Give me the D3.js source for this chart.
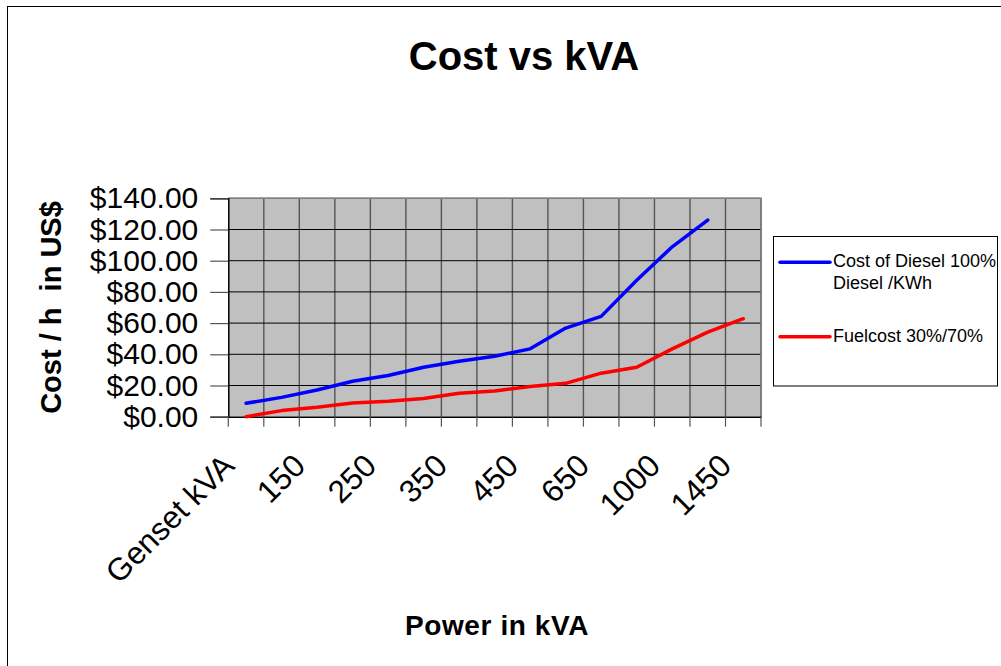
<!DOCTYPE html>
<html>
<head>
<meta charset="utf-8">
<script src="https://cdn.jsdelivr.net/npm/d3@7/dist/d3.min.js"></script>
<style>
  html, body { margin: 0; padding: 0; background: #fff; }
  svg { display: block; font-family: "Liberation Sans", Arial, sans-serif; }
</style>
</head>
<body>
<svg id="chart" width="1001" height="666"></svg>
<script>
// ---- data ----
const categories = ["Genset kVA", "100", "150", "200", "250", "300", "350", "400", "450", "500", "650", "800", "1000", "1250", "1450"];
const shownLabels = ["Genset kVA", "150", "250", "350", "450", "650", "1000", "1450"];
const dieselCost = [8.6, 12.4, 17.1, 22.7, 26.4, 31.7, 35.6, 38.8, 43.5, 56.8, 64.3, 87.5, 108.9, 126.0];
const fuelCost = [0, 3.9, 6.0, 8.8, 9.9, 11.6, 15.0, 16.5, 19.3, 21.4, 27.9, 31.7, 43.5, 54.2, 62.8];
const yTicks = [0, 20, 40, 60, 80, 100, 120, 140];
const seriesNames = ["Cost of Diesel 100%", "Fuelcost 30%/70%"];
const seriesColors = ["#0000FF", "#FF0000"];

const svg = d3.select("#chart");

// outer chart border
svg.append("rect")
  .attr("x", 7.5).attr("y", 6.5).attr("width", 1100).attr("height", 800)
  .attr("fill", "#fff").attr("stroke", "#000").attr("stroke-width", 1);

const pL = 228.3, pR = 761, pT = 198.3, pB = 416.7;

const x = d3.scaleBand().domain(categories).range([pL, pR]).padding(0);
const y = d3.scaleLinear().domain([0, 140]).range([pB, pT]);
const cx = d => x(d) + x.bandwidth() / 2;

// plot background
svg.append("rect")
  .attr("x", pL).attr("y", pT)
  .attr("width", pR - pL).attr("height", pB - pT)
  .attr("fill", "#C0C0C0");

// vertical gridlines at category boundaries
const bounds = categories.map(c => x(c)).concat([pR]);
svg.append("g").selectAll("line").data(bounds.slice(1)).join("line")
  .attr("x1", d => d).attr("x2", d => d)
  .attr("y1", pT).attr("y2", pB)
  .attr("stroke", "#555").attr("stroke-width", 1.4);

// horizontal gridlines
svg.append("g").selectAll("line").data(yTicks.slice(1)).join("line")
  .attr("x1", pL).attr("x2", pR)
  .attr("y1", d => y(d)).attr("y2", d => y(d))
  .attr("stroke", "#000").attr("stroke-width", 1);

// top / right plot border
svg.append("path")
  .attr("d", `M${pL},${pT}H${pR}V${pB}`)
  .attr("fill", "none").attr("stroke", "#808080").attr("stroke-width", 1.5);

// y axis
const yAxis = svg.append("g")
  .attr("transform", `translate(${pL},0)`)
  .call(d3.axisLeft(y).tickValues(yTicks).tickSize(18).tickPadding(12)
    .tickFormat(d => "$" + d.toFixed(2)));
yAxis.select(".domain").attr("stroke", "#000").attr("stroke-width", 1.5);
yAxis.selectAll(".tick line").attr("stroke", "#555").attr("stroke-width", 1.2);
yAxis.selectAll(".tick text")
  .attr("font-size", 30).attr("fill", "#000")
  .attr("font-family", "Liberation Sans, Arial, sans-serif");

// x axis
const xAxis = svg.append("g")
  .attr("transform", `translate(0,${pB})`)
  .call(d3.axisBottom(x).tickSizeOuter(0).tickSize(0).tickFormat(d => shownLabels.includes(d) ? d : ""));
xAxis.select(".domain").attr("stroke", "#000").attr("stroke-width", 1.5);
xAxis.selectAll(".tick line").remove();
xAxis.selectAll(".tick text")
  .attr("font-size", 31.5).attr("fill", "#000")
  .attr("font-family", "Liberation Sans, Arial, sans-serif")
  .attr("text-anchor", "end")
  .attr("x", 0).attr("y", 0).attr("dy", 0)
  .attr("transform", "translate(-10,51) rotate(-45)");

// x tick marks at category boundaries
svg.append("g").selectAll("line").data(bounds).join("line")
  .attr("x1", d => d).attr("x2", d => d)
  .attr("y1", pB).attr("y2", pB + 10)
  .attr("stroke", "#555").attr("stroke-width", 1.2);

// series lines
const line = d3.line().x((d, i) => cx(categories[i])).y(d => y(d));
[dieselCost, fuelCost].forEach((s, k) => {
  svg.append("path").datum(s)
    .attr("d", line)
    .attr("fill", "none")
    .attr("stroke", seriesColors[k])
    .attr("stroke-width", 3.5)
    .attr("stroke-linejoin", "round")
    .attr("stroke-linecap", "round");
});

// titles
svg.append("text").attr("x", 524).attr("y", 70)
  .attr("text-anchor", "middle").attr("font-size", 40).attr("font-weight", "bold")
  .text("Cost vs kVA");
svg.append("text").attr("x", 497).attr("y", 635)
  .attr("text-anchor", "middle").attr("font-size", 28).attr("font-weight", "bold")
  .attr("letter-spacing", 0.6)
  .text("Power in kVA");
svg.append("text")
  .attr("transform", `translate(61,${(pT + pB) / 2}) rotate(-90)`)
  .attr("text-anchor", "middle").attr("font-size", 29).attr("font-weight", "bold")
  .attr("xml:space", "preserve")
  .text("Cost / h  in US$");

// legend
const lg = svg.append("g");
lg.append("rect").attr("x", 773.5).attr("y", 236.5).attr("width", 224).attr("height", 149.5)
  .attr("fill", "#fff").attr("stroke", "#000").attr("stroke-width", 1);
const legendRows = [
  { lineY: 262.3, lines: [seriesNames[0], "Diesel /KWh"], baseY: 267 },
  { lineY: 336.7, lines: [seriesNames[1]], baseY: 341.5 }
];
legendRows.forEach((r, k) => {
  lg.append("line").attr("x1", 780).attr("x2", 830).attr("y1", r.lineY).attr("y2", r.lineY)
    .attr("stroke", seriesColors[k]).attr("stroke-width", 3.5).attr("stroke-linecap", "round");
  r.lines.forEach((t, j) => {
    lg.append("text").attr("x", 833).attr("y", r.baseY + j * 21.6)
      .attr("font-size", 18).attr("fill", "#000")
      .text(t);
  });
});
</script>
</body>
</html>
